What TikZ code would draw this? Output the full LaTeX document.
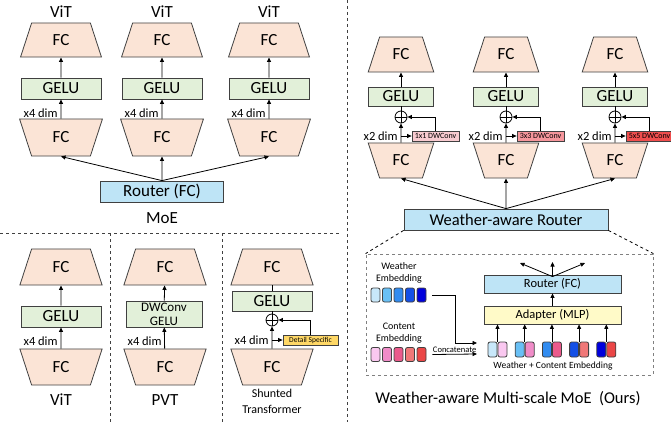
\documentclass[tikz,border=0pt]{standalone}
\usepackage{fontspec}
\setmainfont{Carlito}
\usetikzlibrary{shapes.geometric, arrows.meta, positioning, calc}
\definecolor{edgegray}{RGB}{64, 64, 64}
\definecolor{fcpeach}{RGB}{251, 228, 214}
\definecolor{gelugreen}{RGB}{226, 240, 217}
\definecolor{routerblue}{RGB}{190, 228, 246}
\definecolor{adapteryellow}{RGB}{255, 250, 200}
\definecolor{detailgold}{RGB}{255, 216, 102}
\definecolor{convA}{RGB}{248, 203, 208}
\definecolor{convB}{RGB}{246, 150, 156}
\definecolor{convC}{RGB}{240, 78, 78}
\definecolor{wA}{RGB}{200, 232, 250}
\definecolor{wB}{RGB}{105, 192, 245}
\definecolor{wC}{RGB}{50, 140, 240}
\definecolor{wD}{RGB}{20, 80, 230}
\definecolor{wE}{RGB}{0, 0, 220}
\definecolor{cA}{RGB}{250, 200, 240}
\definecolor{cB}{RGB}{240, 140, 200}
\definecolor{cC}{RGB}{235, 90, 140}
\definecolor{cD}{RGB}{240, 120, 120}
\definecolor{cE}{RGB}{235, 70, 70}

\tikzset{
  fc/.style={trapezium, trapezium angle=72, draw=edgegray, fill=fcpeach, inner xsep=21pt, inner ysep=11.5pt, font=\fontsize{17}{20}\selectfont},
  fcdown/.style={fc, shape border rotate=180},
  box/.style={draw=edgegray, inner sep=0pt, font=\fontsize{17}{20}\selectfont},
  gelu/.style={box, fill=gelugreen, minimum width=80pt, minimum height=21pt},
  arr/.style={-{Triangle[length=4.5pt,width=4pt]}},
  dimlabel/.style={anchor=east, inner sep=1pt, font=\fontsize{12.5}{14}\selectfont},
  title/.style={font=\fontsize{17}{20}\selectfont},
  plusnode/.style={circle, draw, fill=white, minimum size=12pt, inner sep=0pt,
    path picture={\draw (path picture bounding box.north) -- (path picture bounding box.south)
                        (path picture bounding box.west) -- (path picture bounding box.east);}},
  convbox/.style={draw=edgegray, inner sep=0pt, minimum width=47pt, minimum height=10pt, font=\fontsize{8}{9}\selectfont},
  tile/.style={draw=edgegray, rounded corners=2pt, minimum width=9pt, minimum height=14pt, inner sep=0pt},
  sep/.style={dashed, edgegray, line width=0.7pt}
}

\begin{document}
\begin{tikzpicture}[x=1pt, y=-1pt, line width=0.8pt]
\useasboundingbox (0,0) rectangle (671,422);

% Section separators
\draw[sep] (0,233) -- (340,233);
\draw[sep] (347,0) -- (347,422);
\draw[sep] (110,233) -- (110,422);
\draw[sep] (222,233) -- (222,422);

% MoE: three ViT experts behind one router
\foreach \x [count=\i] in {61,162,269} {
  \node[title] at (\x,12) {ViT};
  \node[fc] (vtop\i) at (\x,40) {FC};
  \node[gelu] (vgelu\i) at (\x,88.5) {GELU};
  \node[fcdown, inner ysep=13pt] (vbot\i) at (\x,137.5) {FC};
  \draw[arr] (vbot\i) -- (vgelu\i);
  \draw[arr] (vgelu\i) -- (vtop\i);
  \node[dimlabel] at (\x-2,113) {x4 dim};
}
\node[box, fill=routerblue, minimum width=123pt, minimum height=21pt] (router) at (162,191.5) {Router (FC)};
\foreach \i in {1,2,3}
  \draw[arr] (router.north) -- (vbot\i.south);
\node[title] at (162,218) {MoE};

% ViT block
\node[fc, inner ysep=12.5pt] (atop) at (61,267) {FC};
\node[gelu] (agelu) at (61,316.5) {GELU};
\node[fcdown, inner ysep=12.5pt] (abot) at (61,367) {FC};
\draw[arr] (abot) -- (agelu);
\draw[arr] (agelu) -- (atop);
\node[dimlabel] at (59,341) {x4 dim};
\node[title] at (61,400) {ViT};

% PVT block
\node[fc, inner ysep=12.5pt] (ptop) at (165,267) {FC};
\node[gelu, minimum width=76pt, minimum height=26pt, align=center, font=\fontsize{13}{14}\selectfont] (pgelu) at (164,314) {DWConv\\GELU};
\node[fcdown, inner ysep=12.5pt] (pbot) at (165,367) {FC};
\draw[arr] (pbot) -- (pgelu);
\draw[arr] (pgelu) -- (ptop);
\node[dimlabel] at (163,341) {x4 dim};
\node[title] at (165,400) {PVT};

% Shunted Transformer block
\node[fc, inner ysep=12.5pt] (stop) at (272,267) {FC};
\node[gelu, minimum height=20pt] (sgelu) at (272,301) {GELU};
\node[plusnode] (splus) at (272,320) {};
\node[fcdown, inner ysep=12.5pt] (sbot) at (272,367) {FC};
\node[draw=edgegray, fill=detailgold, inner sep=0pt, minimum width=55pt, minimum height=10pt, font=\fontsize{7.5}{8}\selectfont] (detail) at (310.5,340) {Detail Specific};
\coordinate (stap) at (272,340);
\draw[arr] (sbot) -- (splus);
\draw (splus) -- (sgelu);
\draw (sgelu) -- (stop);
\draw[arr] (stap) -- (detail.west);
\draw[arr] (detail.north) |- (splus.east);
\node[dimlabel] at (270,340) {x4 dim};
\node[align=center, font=\fontsize{12}{16}\selectfont] at (272,401) {Shunted\\Transformer};

% Weather-aware multi-scale experts
\foreach \x/\c/\k [count=\i] in {401/convA/1x1, 506/convB/3x3, 615/convC/5x5} {
  \node[fc, inner xsep=13pt, inner ysep=12pt] (mtop\i) at (\x,54.5) {FC};
  \node[gelu, minimum width=65pt, minimum height=19pt] (mgelu\i) at (\x,96.5) {GELU};
  \node[plusnode] (mplus\i) at (\x,117) {};
  \node[fcdown, inner xsep=13pt, inner ysep=12pt] (mbot\i) at (\x,160.5) {FC};
  \node[convbox, fill=\c] (mconv\i) at (\x+34.5,136) {\k\ DWConv};
  \coordinate (mtap\i) at (\x,136);
  \draw[arr] (mbot\i) -- (mplus\i);
  \draw (mplus\i) -- (mgelu\i);
  \draw[arr] (mgelu\i) -- (mtop\i);
  \draw[arr] (mtap\i) -- (mconv\i.west);
  \draw[arr] (mconv\i.north) |- (mplus\i.east);
  \node[dimlabel] at (\x-2,136) {x2 dim};
}
\node[box, fill=routerblue, minimum width=204pt, minimum height=21pt, font=\fontsize{16.5}{20}\selectfont] (wrouter) at (506,219.5) {Weather-aware Router};
\foreach \i in {1,2,3}
  \draw[arr] (wrouter.north) -- (mbot\i.south);

% Router detail
\node[draw=gray, dashed, minimum width=287pt, minimum height=121pt, inner sep=0pt] (zoombox) at (509.5,314.5) {};
\draw[dashed] (wrouter.south west) -- (zoombox.north west);
\draw[dashed] (wrouter.south east) -- (zoombox.north east);
\node[font=\fontsize{16.5}{20}\selectfont] at (508,399) {Weather-aware Multi-scale MoE\ \ (Ours)};

\node[align=center, font=\fontsize{10}{12}\selectfont] at (399,273) {Weather\\Embedding};
\node[align=center, font=\fontsize{10}{12}\selectfont] at (399,333) {Content\\Embedding};
\foreach \w/\c [count=\i] in {wA/cA, wB/cB, wC/cC, wD/cD, wE/cE} {
  \node[tile, fill=\w] (wt\i) at (375.5+11.5*\i-11.5,295) {};
  \node[tile, fill=\c] (ct\i) at (375.5+11.5*\i-11.5,354.5) {};
  \node[tile, fill=\w, minimum height=15pt] (pw\i) at (492.5+27.2*\i-27.2,349.5) {};
  \node[tile, fill=\c, minimum height=15pt] (pc\i) at (502.5+27.2*\i-27.2,349.5) {};
}
\coordinate (catw) at (477,343);
\coordinate (catc) at (477,354);
\draw[arr] ([xshift=6pt]wt5.east) -- ++(23,0) |- (catw);
\draw[arr] ([xshift=6pt]ct5.east) -- (catc) node[midway, above, inner sep=1.5pt, font=\fontsize{8.5}{10}\selectfont] {Concatenate};
\node[font=\fontsize{9.5}{11}\selectfont] at (553,366) {Weather + Content Embedding};

\node[box, fill=adapteryellow, minimum width=137pt, minimum height=18pt, font=\fontsize{12.5}{14}\selectfont] (adapter) at (552.5,315) {Adapter (MLP)};
\node[box, fill=routerblue, minimum width=137pt, minimum height=18pt, font=\fontsize{12.5}{14}\selectfont] (irouter) at (552.5,284) {Router (FC)};
\foreach \i in {1,...,5} {
  \coordinate (pj\i) at ($(pw\i.north east)!0.5!(pc\i.north west)$);
  \draw[arr] (pj\i) -- (pj\i |- adapter.south);
}
\draw[arr] (adapter) -- (irouter);
\coordinate (fan) at ([yshift=-2pt]irouter.north);
\coordinate (outL) at (520,263);
\coordinate (outM) at (552.5,262);
\coordinate (outR) at (585,263);
\draw[arr] (fan) -- (outL);
\draw[arr] (fan) -- (outM);
\draw[arr] (fan) -- (outR);
\end{tikzpicture}
\end{document}
